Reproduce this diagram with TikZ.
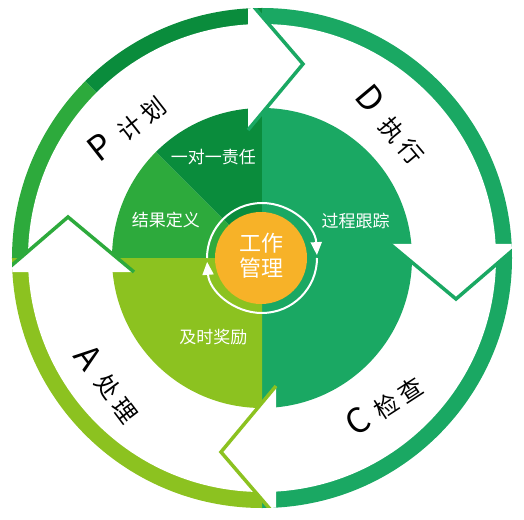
\documentclass[tikz,border=0pt]{standalone}
\usepackage{fontspec}
\newfontfamily\cjk{Noto Sans CJK SC}
\usetikzlibrary{arrows.meta}
\definecolor{tealg}{HTML}{1AA863}
\definecolor{dkgreen}{HTML}{0A8C3C}
\definecolor{ltgreen}{HTML}{2DAA3C}
\definecolor{ygreen}{HTML}{8CC220}
\definecolor{coreorange}{HTML}{F7B228}
\newcommand\phaselabel[3]{{\fontsize{34}{34}\selectfont #1}\hspace{#3}{\fontsize{24}{24}\selectfont #2}}
\begin{document}
\begin{tikzpicture}[x=1pt,y=1pt,
  inlabel/.style={text=white,font=\cjk\fontsize{17}{17}\selectfont,inner sep=0pt},
  phase/.style={font=\cjk,inner sep=0pt,text=black},
  headline/.style={line width=3.5pt,line join=miter},
  ringarrow/.style={white,line width=2pt,-{Triangle[width=11pt,length=13pt]}}]
\useasboundingbox (-262,-261) rectangle (262,258);
\coordinate (O) at (0,0);
% outer coloured wedges
\fill[ltgreen] (O) -- (135:250pt) arc[start angle=135,end angle=180,radius=250pt] -- cycle;
\fill[dkgreen] (O) -- (90:250pt) arc[start angle=90,end angle=135,radius=250pt] -- cycle;
\fill[tealg] (O) -- (-90:250pt) arc[start angle=-90,end angle=90,radius=250pt] -- cycle;
\fill[ygreen] (O) -- (180:250pt) arc[start angle=180,end angle=270,radius=250pt] -- cycle;
% white band
\fill[white] (O) circle[radius=234pt];
% inner disk
\fill[ltgreen] (O) -- (135:150pt) arc[start angle=135,end angle=180,radius=150pt] -- cycle;
\fill[dkgreen] (O) -- (90:150pt) arc[start angle=90,end angle=135,radius=150pt] -- cycle;
\fill[tealg] (O) -- (-90:150pt) arc[start angle=-90,end angle=90,radius=150pt] -- cycle;
\fill[ygreen] (O) -- (180:150pt) arc[start angle=180,end angle=270,radius=150pt] -- cycle;
% arrow heads
\begin{scope}
\clip (O) circle[radius=250pt];
\foreach \r/\c in {0/tealg,-90/tealg,-180/ygreen,-270/ltgreen}{
  \begin{scope}[rotate=\r]
    \fill[white] (-14,258) -- (41,194) -- (-14,128) -- cycle;
    \draw[headline,\c] (-14,258) -- (41,194) -- (-14,128);
  \end{scope}
}
\end{scope}
% centre
\draw[ringarrow] (180:55pt) arc[start angle=180,end angle=3,radius=55pt];
\draw[ringarrow] (0:55pt) arc[start angle=0,end angle=-176,radius=55pt];
\fill[coreorange] (-1,0) circle[radius=46pt];
\node[text=white,font=\cjk\fontsize{22}{25}\selectfont,align=center,inner sep=0pt] (core) at (-1,2) {工作\\管理};
% inner labels
\node[inlabel] (l1) at (-48.5,100.5) {一对一责任};
\node[inlabel] (l2) at (-96,38) {结果定义};
\node[inlabel] (l3) at (93.5,37) {过程跟踪};
\node[inlabel] (l4) at (-48.5,-79.5) {及时奖励};
% arrow labels
\node[phase,rotate=38] (pLab) at (-135,130.4) {\phaselabel{P}{计\hspace{5pt}划}{13pt}};
\node[phase,rotate=-50] (dLab) at (129.4,132.8) {\phaselabel{D}{执\hspace{5pt}行}{14pt}};
\node[phase,rotate=33] (cLab) at (122.2,-146.6) {\phaselabel{C}{检\hspace{5pt}查}{10pt}};
\node[phase,rotate=-53] (aLab) at (-153.8,-125.8) {\phaselabel{A}{处\hspace{5pt}理}{13pt}};
\end{tikzpicture}
\end{document}
